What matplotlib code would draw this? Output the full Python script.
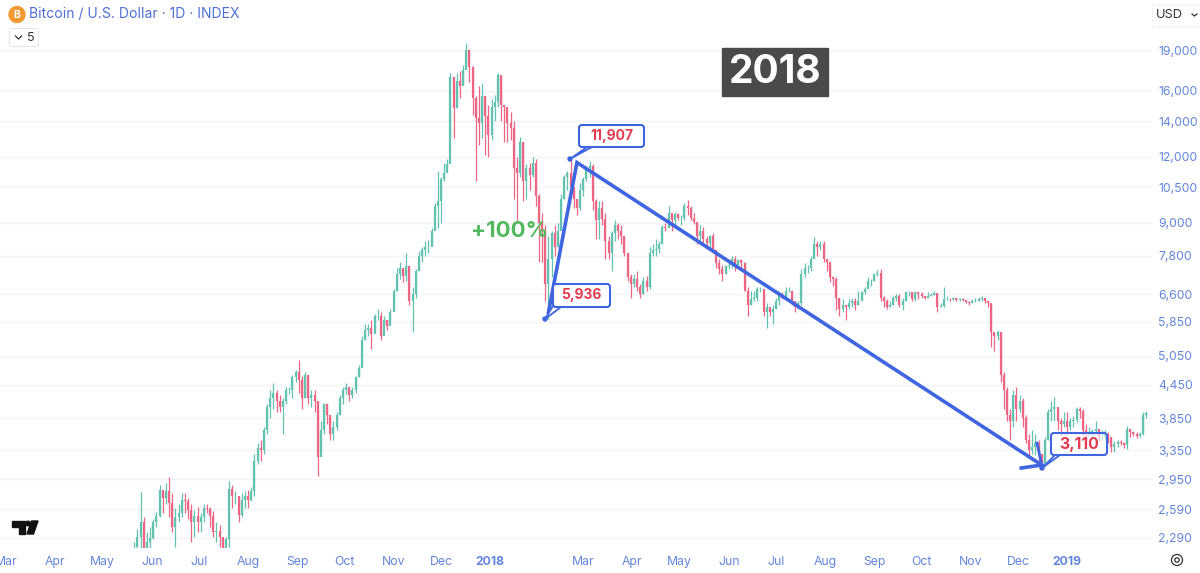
#!/usr/bin/env python3
"""BTC/USD daily chart, 2018 bear market, with callouts (one bar per two days)."""

import matplotlib
matplotlib.use("Agg")
import matplotlib.dates as mdates
import matplotlib.pyplot as plt
import numpy as np
from matplotlib.patches import Circle, FancyBboxPatch, Polygon, Rectangle

FIRST_BAR = "2017-05-21"

closes = [
    # 2017 May, Jun, Jul
    2200, 2300, 2450, 2150, 2250, 2290,
    2450, 2520, 2820, 2720, 2800, 2660, 2400, 2500, 2550, 2700, 2680, 2580, 2450, 2520, 2450,
    2500, 2600, 2590, 2520, 2350, 2360, 2300, 2100, 2280, 2830, 2750, 2750, 2530, 2700, 2750,
    # Aug, Sep, Oct
    2700, 2800, 3200, 3380, 3350, 3650, 4050, 4200, 4300, 4150, 4050, 4150, 4350, 4350, 4600, 4700,
    4550, 4200, 4650, 4200, 4250, 4150, 3250, 3650, 4100, 3900, 3600, 3700, 3900, 4200, 4350,
    4400, 4250, 4350, 4600, 4780, 5400, 5650, 5700, 5550, 6000, 6000, 5500, 5900, 5750, 6100,
    # Nov, Dec
    6700, 7200, 7400, 7150, 7450, 6400, 6600, 7300, 7800, 8000, 8100, 8100, 8700, 9700, 9900,
    10900, 11200, 11600, 17000, 14800, 16700, 16300, 17500, 19100, 17700, 15500, 14200, 13900, 15600, 14300, 13200,
    # 2018 Jan, Feb
    14900, 15200, 17100, 15000, 14900, 13900, 13600, 11400, 11200, 12800, 10800, 11400, 11100, 11700, 10100,
    9000, 8700, 6900, 7700, 8600, 8100, 8700, 10000, 11000, 11200, 10500, 10000, 9600, 10400,
    # Mar, Apr, May
    10900, 11400, 11500, 9900, 9100, 9600, 9150, 8300, 7900, 8600, 8900, 8700, 8500, 7900, 7100, 6900,
    7050, 6800, 6600, 7000, 6800, 7900, 8000, 8050, 8200, 8850, 8800, 9400, 9100, 9350, 9200,
    9200, 9700, 9600, 9200, 9050, 8500, 8700, 8400, 8250, 8500, 8000, 7550, 7350, 7200, 7450,
    # Jun, Jul, Aug
    7500, 7700, 7500, 7650, 7550, 6700, 6300, 6450, 6500, 6750, 6750, 6100, 6250, 6100, 6200,
    6400, 6600, 6550, 6700, 6700, 6400, 6250, 6350, 7200, 7400, 7400, 7700, 8200, 8100, 8200, 7700,
    7600, 7100, 7050, 6500, 6200, 6300, 6250, 6350, 6400, 6300, 6400, 6650, 6750, 7000, 7000,
    # Sep, Oct
    7200, 7250, 6500, 6400, 6250, 6300, 6500, 6550, 6300, 6400, 6650, 6650, 6450, 6650, 6600,
    6550, 6500, 6550, 6580, 6620, 6250, 6270, 6450, 6470, 6450, 6480, 6430, 6450, 6440, 6380, 6350,
    # Nov, Dec
    6400, 6420, 6450, 6500, 6400, 6350, 5600, 5500, 5600, 4650, 4350, 3900, 3800, 4250, 4000,
    4150, 3850, 3500, 3350, 3400, 3450, 3300, 3150, 3500, 3950, 4000, 4050, 3800, 3750, 3800,
    # 2019 Jan, Feb
    3700, 3800, 3820, 4000, 3980, 3650, 3600, 3620, 3640, 3680, 3550, 3550, 3590, 3550, 3400, 3440,
    3470, 3460, 3420, 3680, 3620, 3590, 3570, 3590, 3900, 3930,
]

highs = [
    2250, 2380, 2790, 2500, 2350, 2400,
    2480, 2560, 2880, 2780, 2900, 2980, 2780, 2600, 2650, 2780, 2780, 2720, 2650, 2580, 2620,
    2550, 2650, 2650, 2620, 2570, 2450, 2420, 2250, 2300, 2930, 2880, 2800, 2750, 2780, 2800,
    2820, 2850, 3300, 3450, 3500, 3700, 4100, 4350, 4480, 4350, 4250, 4200, 4400, 4400, 4650, 4750,
    4950, 4620, 4700, 4650, 4350, 4350, 4000, 3800, 4120, 4100, 3900, 3800, 3950, 4250, 4400,
    4480, 4400, 4400, 4620, 4850, 5500, 5800, 5800, 5900, 6050, 6200, 6100, 6000, 5900, 6200,
    6750, 7400, 7600, 7350, 7900, 7450, 6800, 7350, 7950, 8100, 8300, 8350, 8800, 9800, 11300,
    11000, 11700, 11900, 17300, 16500, 17300, 17400, 17900, 19700, 19200, 17800, 15600, 16300, 16500, 15600, 15000,
    15400, 15700, 17300, 17000, 15000, 14000, 14600, 14000, 12000, 13100, 12800, 11600, 11700, 12000, 11900,
    10200, 9400, 8900, 8500, 8700, 8900, 9000, 10200, 11100, 11300, 11850, 10400, 10000, 10700,
    11000, 11500, 11800, 11600, 10000, 9900, 9900, 9400, 8500, 8700, 9100, 9000, 8900, 8500, 7900, 7200,
    7200, 7300, 6900, 7100, 7150, 8100, 8200, 8400, 8300, 8900, 9000, 9670, 9300, 9450, 9400,
    9300, 9800, 9950, 9700, 9400, 9000, 8900, 8850, 8500, 8550, 8600, 8000, 7700, 7500, 7500,
    7600, 7800, 7800, 7700, 7700, 7600, 6800, 6700, 6700, 6800, 6800, 6700, 6350, 6250, 6300,
    6500, 6700, 6650, 6800, 6800, 6700, 6400, 6400, 7350, 7550, 7500, 7800, 8480, 8300, 8300, 8300,
    7700, 7500, 7150, 7100, 6500, 6450, 6300, 6450, 6500, 6500, 6700, 6700, 6800, 7100, 7050,
    7250, 7320, 7350, 6550, 6450, 6400, 6550, 6600, 6600, 6500, 6700, 6700, 6600, 6700, 6650,
    6650, 6550, 6650, 6620, 6680, 6620, 6350, 6800, 6550, 6500, 6520, 6490, 6490, 6480, 6440, 6400,
    6450, 6500, 6520, 6550, 6450, 6420, 6350, 5600, 5650, 5600, 4700, 4400, 4000, 4350, 4400,
    4250, 4200, 3900, 3600, 3650, 3600, 3500, 3300, 3550, 4000, 4150, 4220, 4000, 3850, 3950,
    3950, 3850, 3880, 4050, 4050, 4000, 3750, 3700, 3680, 3800, 3680, 3650, 3650, 3620, 3550, 3480,
    3500, 3500, 3470, 3720, 3680, 3640, 3620, 3620, 3950, 3980,
]

lows = [
    2100, 2150, 2150, 2000, 2100, 2150,
    2280, 2400, 2500, 2550, 2650, 2500, 2350, 2200, 2450, 2500, 2550, 2480, 2250, 2300, 2350,
    2350, 2450, 2550, 2400, 2300, 2250, 2200, 1900, 2100, 2200, 2600, 2650, 2450, 2500, 2600,
    2600, 2680, 2750, 3150, 3200, 3300, 3600, 3850, 4000, 3950, 3950, 3600, 4100, 4280, 4200, 4500,
    4300, 4000, 4200, 4100, 4050, 3950, 3000, 3450, 3600, 3750, 3500, 3500, 3650, 3900, 4100,
    4280, 4150, 4200, 4300, 4600, 4800, 5400, 5500, 5200, 5600, 5900, 5400, 5700, 5650, 5900,
    6300, 6700, 7050, 6950, 7000, 6300, 5600, 6500, 7300, 7600, 7800, 7900, 8200, 9300, 8800,
    9000, 10800, 11400, 13000, 13000, 14800, 15500, 16500, 18000, 16600, 14400, 10800, 12600, 13000, 12100, 12000,
    12900, 14000, 14900, 14000, 12800, 12800, 12900, 10000, 9000, 11000, 9900, 10000, 10400, 11000, 9700,
    7600, 7600, 6400, 5936, 7100, 7800, 8100, 9000, 10000, 10400, 10300, 9600, 9300, 9500,
    10100, 10800, 11000, 9500, 8400, 8400, 8900, 7700, 7700, 7300, 8300, 8400, 8200, 7800, 7000, 6500,
    6800, 6700, 6500, 6600, 6700, 6750, 7800, 7800, 7900, 8200, 8700, 8900, 8700, 8900, 9100,
    8900, 9100, 9300, 9100, 8950, 8200, 8200, 8250, 8100, 8000, 7900, 7400, 7200, 7000, 7200,
    7350, 7400, 7300, 7550, 7400, 6700, 6000, 6300, 6400, 6400, 6650, 6000, 5700, 6000, 5800,
    6200, 6300, 6450, 6500, 6650, 6300, 6100, 6200, 6300, 7100, 7250, 7300, 7900, 7800, 8000, 7600,
    7300, 6950, 6850, 6150, 6000, 6100, 5900, 6200, 6250, 6150, 6300, 6400, 6600, 6800, 6850,
    7000, 7150, 6400, 6250, 6200, 6250, 6300, 6400, 6250, 6150, 6400, 6550, 6400, 6400, 6450,
    6500, 6450, 6500, 6540, 6580, 6100, 6230, 6250, 6430, 6400, 6440, 6400, 6420, 6400, 6350, 6300,
    6350, 6380, 6400, 6400, 6350, 6250, 5250, 5150, 5400, 4500, 4000, 3800, 3500, 3700, 3800,
    3950, 3700, 3450, 3250, 3300, 3280, 3200, 3110, 3150, 3500, 3800, 3800, 3650, 3570, 3700,
    3600, 3650, 3700, 3780, 3850, 3560, 3500, 3560, 3520, 3600, 3480, 3500, 3520, 3450, 3320, 3330,
    3390, 3420, 3380, 3360, 3550, 3560, 3530, 3550, 3580, 3850,
]

month_ticks = ["2017-03-01", "2017-04-01", "2017-05-01", "2017-06-01", "2017-07-01", "2017-08-01",
               "2017-09-01", "2017-10-01", "2017-11-01", "2017-12-01", "2018-01-01", "2018-03-01",
               "2018-04-01", "2018-05-01", "2018-06-01", "2018-07-01", "2018-08-01", "2018-09-01",
               "2018-10-01", "2018-11-01", "2018-12-01", "2019-01-01"]
month_labels = ["Mar", "Apr", "May", "Jun", "Jul", "Aug", "Sep", "Oct", "Nov", "Dec", "2018", "Mar",
                "Apr", "May", "Jun", "Jul", "Aug", "Sep", "Oct", "Nov", "Dec", "2019"]
price_ticks = [19000, 16000, 14000, 12000, 10500, 9000, 7800, 6600, 5850, 5050, 4450, 3850, 3350,
               2950, 2590, 2290]

trend_dates = ["2018-02-07", "2018-02-25", "2018-12-16", "2018-12-03"]
trend_prices = [6100, 11700, 3140, 3100]

BLUE_TEXT = "#6385dc"
TREND = "#3f66e0"
UP = "#62c2b0"
DOWN = "#ec6585"
RED_TEXT = "#e23b52"
W, H = 1200, 573
PLOT_RIGHT, PLOT_BOTTOM = 1152, 548

plt.rcParams["font.family"] = ["Inter", "DejaVu Sans"]


def dnum(d):
    return mdates.date2num(np.datetime64(d))


def callout(ax, box, tail, text, fontsize=10, fill_alpha=1.0):
    x0, y0, x1, y1 = box
    # tail first so the box border closes over its base
    ax.add_patch(Polygon(tail, closed=False, fc="white", ec=TREND, lw=1.3, zorder=6))
    ax.add_patch(FancyBboxPatch((x0, y0), x1 - x0, y1 - y0, boxstyle="round,pad=0,rounding_size=3",
                                fc=(1, 1, 1, fill_alpha), ec=TREND, lw=1.5, zorder=6))
    ax.text((x0 + x1) / 2, (y0 + y1) / 2, text, color=RED_TEXT, fontsize=fontsize, weight="bold",
            ha="center", va="center", zorder=7)
    ax.add_patch(Circle(tail[1], 2, color=TREND, zorder=7))


fig = plt.figure(figsize=(W / 100, H / 100), dpi=100, facecolor="white")
ax = fig.add_axes([0, 1 - PLOT_BOTTOM / H, PLOT_RIGHT / W, PLOT_BOTTOM / H])

dates = np.datetime64(FIRST_BAR) + np.arange(len(closes)) * np.timedelta64(2, "D")
x = mdates.date2num(dates)
closes_a = np.array(closes, dtype=float)
opens_a = np.r_[closes_a[0], closes_a[:-1]]
colors = np.where(closes_a >= opens_a, UP, DOWN)

ax.vlines(x, lows, highs, colors=colors, lw=0.9, zorder=2)
ax.vlines(x, opens_a, closes_a, colors=colors, lw=1.6, zorder=3)

# x scale: 1.581 px per day with 2018-01-01 at px 490
jan18 = dnum("2018-01-01")
ax.set_xlim(jan18 - 490 / 1.581, jan18 + (PLOT_RIGHT - 490) / 1.581)
ax.set_yscale("log")
ax.set_ylim(19000 * np.exp(-(PLOT_BOTTOM - 51) / 230), 19000 * np.exp(51 / 230))

ax.set_yticks(price_ticks)
ax.set_yticklabels([f"{p:,}" for p in price_ticks])
ax.minorticks_off()
ax.yaxis.tick_right()
ax.set_xticks([dnum(d) for d in month_ticks])
ax.set_xticklabels(month_labels)
ax.tick_params(axis="both", length=0, labelcolor=BLUE_TEXT, labelsize=8.8)
ax.tick_params(axis="x", pad=6)
ax.tick_params(axis="y", pad=4.5)
for lab in ax.get_xticklabels():
    if lab.get_text() in ("2018", "2019"):
        lab.set_fontweight("bold")
ax.grid(axis="y", color="#f4f4f5", lw=1)
ax.set_axisbelow(True)
for s in ax.spines.values():
    s.set_visible(False)

ax.plot([dnum(d) for d in trend_dates], trend_prices, color=TREND, lw=2.6,
        solid_joinstyle="miter", zorder=5)

# overlay in reference pixels for the drawn annotations and UI bits
ui = fig.add_axes([0, 0, 1, 1], facecolor="none")
ui.set_xlim(0, W)
ui.set_ylim(H, 0)
ui.axis("off")

ui.plot([1037, 1042], [443, 466], color=TREND, lw=2, zorder=5)

callout(ui, (579, 125, 644, 147), [(587, 147), (570, 159), (592, 147)], "11,907")
callout(ui, (553, 284, 610, 307), [(553, 306), (545, 319), (561, 307)], "5,936")
callout(ui, (1051, 433, 1107, 455), [(1055, 455), (1042, 468), (1060, 455)], "3,110",
        fontsize=11.5, fill_alpha=0.6)

ui.text(510, 231, "+100%", color="#52b95f", fontsize=16, weight="bold", ha="center",
        va="center", zorder=6)

ui.add_patch(Rectangle((722, 48), 106, 48, color="#4a4a4a", zorder=6))
ui.text(775, 72.5, "2018", color="white", fontsize=28, weight="bold", ha="center", va="center",
        zorder=7)

# header
ui.add_patch(Circle((17, 14.5), 8, color="#f39a33", zorder=6))
ui.text(17, 14.5, "B", color="white", fontsize=7.5, weight="bold", ha="center", va="center",
        zorder=7)
ui.text(29, 14.5, "Bitcoin / U.S. Dollar · 1D · INDEX", color="#4f6fd6", fontsize=10.05, ha="left",
        va="center", zorder=7)
ui.add_patch(FancyBboxPatch((9.5, 28.5), 29, 18, boxstyle="round,pad=0,rounding_size=2",
                            fc="white", ec="#e6e6e6", lw=0.8, zorder=6))
ui.plot([15.5, 18.5, 21.5], [36, 39, 36], color="#333333", lw=0.9, zorder=7)
ui.text(30.5, 38, "5", color="#333333", fontsize=9, ha="center", va="center", zorder=7)

ui.add_patch(Rectangle((1152, 4), 48, 23, fc="white", ec="#f2f2f2", lw=0.8, zorder=6))
ui.text(1156, 15, "USD", color="#333333", fontsize=9.2, ha="left", va="center", zorder=7)
ui.plot([1192, 1194.5, 1197], [14, 16, 14], color="#333333", lw=0.9, zorder=7)

# watermark logo
ui.add_patch(Polygon([(12, 521), (25, 521), (25, 534), (19, 534), (19, 527), (12, 527)],
                     color="#111111", zorder=6))
ui.add_patch(Circle((28, 523.5), 2.3, color="#111111", zorder=6))
ui.add_patch(Polygon([(31.5, 521), (38, 521), (33.5, 534), (27, 534)], color="#111111", zorder=6))

# settings icon
ui.add_patch(Circle((1177, 560), 5.5, fc="white", ec="#333333", lw=0.9, zorder=6))
ui.add_patch(Circle((1177, 560), 2.2, fc="white", ec="#333333", lw=0.9, zorder=6))

fig.savefig("out.png", dpi=100)
